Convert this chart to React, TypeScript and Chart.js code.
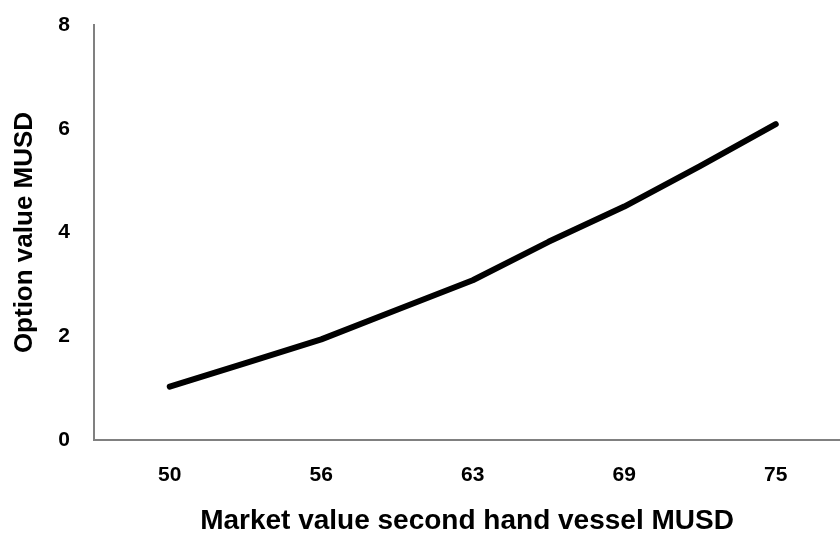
import React, { useEffect, useRef } from "react";
import { Chart, registerables } from "chart.js";

Chart.register(...registerables);

const marketValues = [50, 53.125, 56.25, 59.375, 62.5, 65.625, 68.75, 71.875, 75];
const optionValues = [1.03, 1.48, 1.94, 2.51, 3.08, 3.82, 4.5, 5.28, 6.09];
const xTickValues = [50, 56.25, 62.5, 68.75, 75];
const xTickLabels = ["50", "56", "63", "69", "75"];
const yTickValues = [0, 2, 4, 6, 8];

const FONT = "'Liberation Sans', Arial, Helvetica, sans-serif";

export default function App() {
  const canvasRef = useRef<HTMLCanvasElement | null>(null);

  useEffect(() => {
    if (!canvasRef.current) return;
    const chart = new Chart(canvasRef.current, {
      type: "line",
      data: {
        datasets: [
          {
            data: marketValues.map((x, i) => ({ x, y: optionValues[i] })),
            borderColor: "#000000",
            backgroundColor: "#000000",
            borderWidth: 6,
            pointRadius: 0,
            tension: 0,
            borderCapStyle: "round",
            borderJoinStyle: "round",
          },
        ],
      },
      options: {
        animation: false,
        responsive: true,
        maintainAspectRatio: false,
        layout: { padding: { top: 25, right: 0, bottom: 0, left: 0 } },
        plugins: {
          legend: { display: false },
          tooltip: { enabled: false },
          title: { display: false },
        },
        scales: {
          x: {
            type: "linear",
            min: 46.875,
            max: 77.65,
            afterBuildTicks: (scale: any) => {
              scale.ticks = xTickValues.map((v) => ({ value: v }));
            },
            afterFit: (scale: any) => {
              scale.height = 95;
              scale.paddingLeft = 0;
              scale.paddingRight = 0;
            },
            grid: { display: false, drawTicks: false },
            border: { display: true, color: "#808080", width: 2 },
            ticks: {
              autoSkip: false,
              maxRotation: 0,
              padding: 23,
              color: "#000000",
              font: { family: FONT, size: 21, weight: "bold" },
              callback: (_v: any, index: number) => xTickLabels[index],
            },
            title: {
              display: true,
              text: "Market value second hand vessel MUSD",
              color: "#000000",
              font: { family: FONT, size: 28, weight: "bold", lineHeight: 1 },
              padding: { top: 0, bottom: 0 },
            },
          },
          y: {
            type: "linear",
            min: 0,
            max: 8,
            afterBuildTicks: (scale: any) => {
              scale.ticks = yTickValues.map((v) => ({ value: v }));
            },
            afterFit: (scale: any) => {
              scale.width = 94;
              scale.paddingTop = 0;
              scale.paddingBottom = 0;
            },
            grid: { display: false, drawTicks: false },
            border: { display: true, color: "#808080", width: 2 },
            ticks: {
              padding: 24,
              color: "#000000",
              font: { family: FONT, size: 21, weight: "bold" },
            },
            title: {
              display: true,
              text: "Option value MUSD",
              color: "#000000",
              font: { family: FONT, size: 26, weight: "bold", lineHeight: 1 },
              padding: { top: 12, bottom: 0 },
            },
          },
        },
      },
    } as any);
    return () => chart.destroy();
  }, []);

  return (
    <div
      style={{
        position: "fixed",
        left: 0,
        top: 0,
        width: 840,
        height: 535,
        background: "#ffffff",
      }}
    >
      <canvas ref={canvasRef} />
    </div>
  );
}
